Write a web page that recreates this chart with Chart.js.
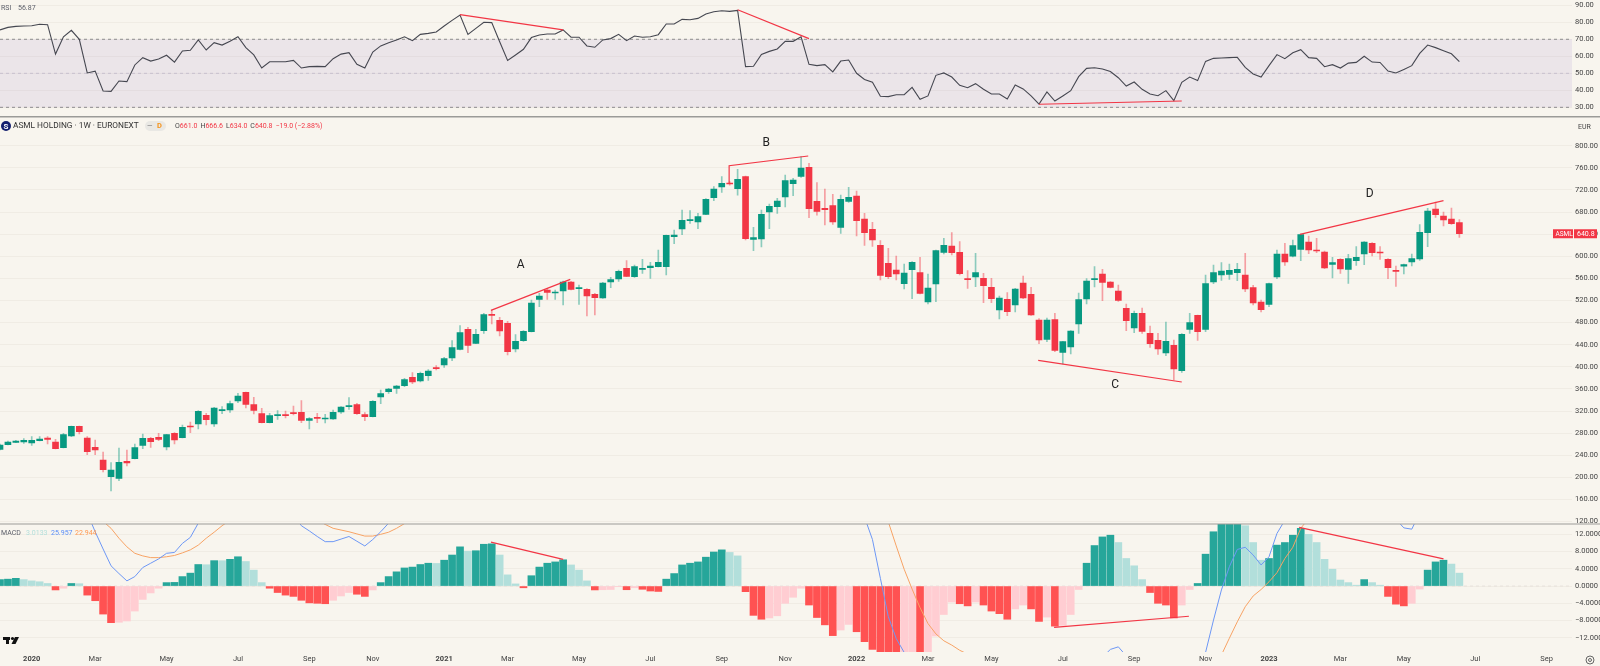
<!DOCTYPE html>
<html>
<head>
<meta charset="utf-8">
<title>ASML HOLDING 1W</title>
<script src="https://cdn.jsdelivr.net/npm/chart.js@4/dist/chart.umd.min.js"></script>
<style>
  html, body { margin: 0; padding: 0; background: #f8f5ee; }
  canvas { display: block; }
</style>
</head>
<body>
<canvas id="chart" width="1600" height="666"></canvas>
<script>
// weekly candles
const opens = [250.6,259.1,263.3,263.9,262.1,266.3,271.1,263.9,253.6,274.7,292.2,271.1,254.2,231.3,201.1,198.1,228.9,233.7,257.9,270.5,
  272.3,254.8,279.6,271.7,292.8,296.5,312.1,296.5,320.6,321.8,338.1,353.8,331.5,315.2,298.9,311.5,312.8,316.4,317.6,303.1,
  307.9,305.5,305.5,318.2,327.8,331.5,313.4,309.7,345.3,355,361,366,381,374.3,384,397.9,403.3,415.9,431.6,467.8,
  442.5,465.4,494.4,484.1,478.7,432.2,447.3,463.6,522.1,539,533.6,537.2,553.5,541.4,540.2,531.2,524.5,553.5,558.9,578.2,
  563.1,576.4,579.4,581.3,581.3,635.5,649.4,664.5,662.1,676,706.1,725.4,732.1,722.4,744.1,630.7,631.3,680.2,689.8,707.3,
  731.5,744.7,761,699.5,686.8,691.6,652.4,699.5,709.1,667.5,648.8,619.9,587.3,575.2,550.5,575.8,570.4,517.3,549.9,607.2,
  618.6,607.2,558.9,562.5,560.1,543.8,502.8,522.1,511.9,551.7,531.2,484.7,449.7,485.3,426.2,435.8,477.5,522.7,557.7,568,
  553.5,537.2,505.8,470.2,496.8,460.6,447.9,425,438.9,393,467.8,493.2,467.8,553.5,566.2,567.4,570.4,566.2,543.2,517.3,
  513.1,562.5,604.2,600,612.6,625.9,611.4,607.8,585.5,594.5,576.4,592.1,604.2,623.5,607.2,594.5,574.6,581.9,589.7,595.1,
  642.8,685.6,672.9,667.5,661];
const highs = [260,265.7,266.9,269.9,273.5,273.5,273.5,268.7,279.6,292.8,292.8,273.5,267.5,245.8,226.5,253,249.4,260.3,278.4,272.3,
  279.6,277.8,280.8,294.7,300.1,320.6,315.8,326.6,327.8,338.1,352,354.4,344.7,324.8,315.8,320.6,320,329,338.7,307.9,
  315.8,314,321.8,327.8,344.1,333.9,317,338.7,358,361,366.4,379,389.4,390.6,394.9,402,417.2,447.3,474.5,471.4,
  467.8,496.8,502.8,489.5,482.3,458.2,465.4,520.9,533,542,539,555.3,554.7,548.1,541.4,533,552.9,561.9,575.2,592.1,
  584.3,594.5,589.1,611.4,638.6,647.6,683.8,682.6,677.8,704.3,726,744.1,735,757.4,745.3,652.4,683.8,694.7,704.9,747.2,
  741.1,780.3,768.3,733.3,721.8,712.2,711,724.8,718.2,677.8,661.5,628.3,614.4,600.5,586.1,590.3,598.1,568,611.4,632.5,
  642.8,626.5,574,605.4,569.2,560.1,528.2,534.2,542,564.4,543.8,487.1,488.3,496.8,446.1,465.4,533.6,559.5,581.2,576.4,
  554.1,548.1,513.7,501,506.4,473.9,460.6,481.1,448.5,460,496.8,493.8,566.2,584.3,588.5,586.1,587.3,605.4,547.5,520.9,
  551.7,611.4,623.5,629.5,640.4,636.7,632.5,609.6,598.1,595.7,603.6,617.4,626.5,624.7,617.4,595.7,582.4,586.1,604.2,657.3,
  686.8,698.3,680.2,687.4,666.6];
const lows = [249.4,258.5,262.7,261.5,257.9,265.7,260.3,251.2,253,273.5,278.4,241,241,209.6,175.2,193.9,220.4,233.1,251.8,254.2,
  266.3,249.4,260.3,271.1,280.8,287.4,294.7,292.2,315.2,317.6,335.1,325.4,314.6,298.3,298.3,304.9,307.3,312.8,298.9,287.4,
  298.9,298.3,304.9,315.8,323,313.9,302.5,309.1,333.3,352,352,364,369.5,372.5,375.5,394.3,399,411.1,430.4,425.6,
  441.9,460.6,477.5,455.8,421.4,426.8,446.1,463,508.8,521.9,521.9,511.9,539,513.1,491.9,493.8,523.9,543.2,554.7,563.1,
  561.9,569.2,560.1,580.6,566.2,622.9,639.2,659.7,650,675.4,700.7,715.8,728.5,710.4,629.5,610.2,616.8,650,677.8,689.2,
  709.7,742.9,669.9,674.2,656.7,657.9,641.6,697.7,636.7,619.8,618,557.1,559.5,557.1,540.8,523.3,531.8,513.7,517.9,604.2,
  602.4,566.2,542,545,516.1,516.1,486.5,492.6,499.2,523.3,493.2,441.9,445.5,427.4,405.1,423.2,460.6,513.7,544.4,519.7,
  542.6,518.5,465.4,461.8,460.6,435.2,422.6,420.2,376.1,390,460.6,447.9,463.6,550.5,556.5,558.3,555.9,536,511.9,499.2,
  508.8,559.5,583.7,598.7,592.1,604.8,606.6,577.6,560.7,569.2,551.1,583.7,584.9,600.5,594.5,559.5,545.6,568,582.4,592.7,
  617.4,670.5,654.8,657.9,634];
const closes = [258.5,263.9,265.7,266.9,266.9,269.3,268.7,251.8,277.2,292.2,282.6,246.4,249.4,213.8,213.2,227.1,225.9,253.6,270.5,264.5,
  268.7,277.2,267.5,290.4,291,319.4,304.3,325.4,321.8,333.3,347.1,332.1,321.2,298.9,311.5,312.8,311.5,315.2,303.1,306.1,
  306.7,306.7,317.6,327.2,329,315.2,309.7,337.5,351.4,359.8,365.2,376.8,372.5,388.2,392.4,396.7,414.7,434.6,461.8,438.9,
  458.8,494.4,493.2,464.8,427.4,446.1,464.2,515.5,528.2,534.8,535.4,553.5,540.2,543.2,528.2,525.1,551.7,557.7,572.8,563.7,
  581.3,578.2,582.5,589.1,637.9,638.6,665.1,665.7,671.7,703.1,721.8,732.1,730.9,739.3,631.9,633.7,676,690.4,700.1,736.9,
  738.1,759.8,686.2,681.4,684.4,662.1,703.1,706.7,664.5,642.8,629.5,565.6,563.2,568,569.8,589.1,533,542.6,610.2,619.9,
  606.6,568.6,557.7,570.4,546.9,523.3,524.5,499.8,540.8,524.5,493.8,448.5,484.7,429.8,445.5,464.8,521.5,555.3,558.9,552.9,
  543.8,520.3,483.5,496.8,464.2,441.9,432.2,446.1,396,458.8,479.9,463.6,550.5,570.4,573.4,574.6,576.4,540.8,515.5,503.4,
  550.5,604.2,589.7,619.2,639.2,611.4,609.6,578.8,588.5,577,595.7,598.1,625.9,606.6,606,579.4,572.8,584.9,595.7,643.4,
  682,675.4,665.7,659.1,640.8];

const rsiValues = [75.5,77,77.6,77.8,78,78.8,78.6,61.3,71.5,75.3,70,50.2,51.3,39.6,39.4,45.5,45.1,54.9,59.2,57.2,
  58.4,60.6,56.6,63.1,63.5,69.6,63.7,68,66.6,68.8,71.5,65.1,60.8,53.1,56.8,56.8,56.8,57.6,53.1,53.9,
  54.1,53.9,58.6,61.3,62.1,55.3,53.1,62.5,66.1,68,69.6,71.5,69.2,72.9,73.5,74.3,77.8,81.1,84.3,72.9,
  76.4,80,79.8,68.6,57.6,60.8,64.1,71,72.5,73.1,73.1,75.5,71.2,71.2,66.1,65.3,69.6,70.4,72.9,69.2,
  71.9,71.2,71.5,72.7,79,79,81.7,81.5,82.3,84.9,86.2,86.8,86.4,87,53.9,54.1,61.1,62.9,64.3,68.8,
  68.8,71.5,55.3,54.5,55.1,50.8,57.2,57.8,50,46.4,44.7,36.5,36.3,37.4,37.4,41.7,34.7,36.7,48.8,50.2,
  47.8,42.9,41.5,43.9,40.6,37.8,37.8,34.9,43.1,40.8,36.7,31.9,39,33.7,36.7,39.8,48,52.9,53.3,52.5,
  51,47.4,42.5,44.9,40.6,37.8,36.8,39.8,33.9,44.7,47.8,45.7,57,58.8,59,59.2,59.4,53.5,49.6,47.8,
  54.5,61,58.6,62.1,63.9,59.2,58.8,53.9,55.1,53.1,56,56.4,60,56.6,56.4,51.3,50.2,52.3,54.5,61.7,
  66.6,65.1,63.3,61.5,56.87];

const macdHist = [1.5,1.6,1.8,1.5,1.2,1,0.6,-0.9,-0.5,0.6,0.55,-2.1,-3.4,-6.5,-8.5,-8.4,-8.1,-5.8,-3.1,-1.6,
  -0.5,0.8,0.85,2.2,3,5,4.95,5.9,5.88,6.2,6.8,5.7,3.7,0.8,-0.5,-1.5,-2.1,-2.4,-3.3,-3.9,
  -4,-4.1,-3.3,-2.3,-1.5,-1.9,-2.4,-0.9,0.8,2.2,3.3,4.2,4.4,5,5.3,5.25,6,7.2,9.1,8.1,
  8.2,9.7,9.8,7.2,2.6,0.5,-0.4,2.4,4.4,5.3,5.6,6.1,4.9,3.7,1.2,-0.9,-0.85,-0.8,-0.15,-0.85,
  -0.4,-0.75,-1.15,-1.25,1.6,2.9,4.9,5.3,5.6,6.7,7.9,8.4,7.8,7,-1.3,-6.8,-7.7,-7.4,-6.9,-4,
  -2.6,-0.5,-4.4,-7.3,-9,-11.5,-10.2,-8.9,-10.6,-12.9,-14.7,-16,-17,-17.5,-17.2,-16.5,-17,-16,-11.6,-6.6,
  -3.7,-4.1,-4.6,-3.7,-4.4,-5.8,-6.4,-7.7,-5.3,-4.4,-5.3,-8.2,-7.2,-9.3,-9.1,-6.6,-0.8,5.3,9.4,11.4,
  11.8,10.1,6.4,4.7,1.5,-1.5,-4,-4.4,-7.4,-4.4,-0.8,0.6,7.4,12.6,15.5,16,16.5,14,10.1,6,
  6.4,9.5,10.1,11.8,13.4,12,10.1,6.2,3.9,1.4,0.8,0.2,1.5,0.8,0.2,-2.4,-4.2,-4.6,-4,-0.7,
  3.7,5.6,6,5.1,3];

// the MACD and signal lines leave the pane, only the visible stretches are kept: [first week, values]
const macdSegments = [
  [11, [17,12.6,8.6,4.7,2.9,1.2,2.2,4.3,5.3,6.3,7.6,7.8,9.9,11.3,14.6]],
  [37, [16.5,14,12.8,11.5,10.3,10.3,10.9,11.5,10.4,9.3,10.8,12.6,14.6]],
  [109, [16,10.8,1.8,-7.1,-12.2,-15.4,-20]],
  [139, [-16.5,-14.7,-14.1,-16.2]],
  [151, [-18.7,-15.4,-7.9,-0.9,4.5,8.5,9,7.2,4.9,6.8,12.2,15.3]],
  [176, [15.5,13.5,13.2,17]]
];
const signalSegments = [
  [13, [15,13.4,11.1,9.1,7.6,7,6.6,6.6,6.8,7.1,7.7,8.4,9.5,11.1,12.5,14,15.3]],
  [40, [15.3,14.3,13.4,13,12.6,12.1,11.6,11.6,12,12.5,13.4,14.5,15.5]],
  [112, [14.9,9.3,3.9,-0.7,-5,-8.7,-11.1,-12.7,-13.7,-14.9,-15.8]],
  [154, [-16,-12.1,-8.3,-4.8,-2.3,-0.8,1,3.1,6.4,9,13.4,15.7]]
];

// hand drawn divergence lines, [week, value] pairs per pane
const priceTrends = [
  [[61.9,502.2],[71.9,558.3]],
  [[91.93,732],[91.93,764],[101.9,781.5]],
  [[130.9,411.7],[149,372.5]],
  [[163.9,639.8],[182,700.7]]
];
const rsiTrends = [
  [[58,84.5],[71,75.5]],
  [[93,87.4],[102,70.4]],
  [[131,31.8],[149,33.7]]
];
const macdTrends = [
  [[61.9,10.2],[71,6.2]],
  [[132.9,-9.6],[149.9,-7]],
  [[163.8,13.6],[182,6.3]]
];
const priceNotes = [['A',65.66,584.9],['B',96.6,804.5],['C',140.6,367.7],['D',172.7,712]];

const priceTicks = [800,760,720,680,640,600,560,520,480,440,400,360,320,280,240,200,160,120];
const rsiTicks = [90,80,70,60,50,40,30];
const rsiDashed = [70,50,30];
const macdTicks = [12,8,4,0,-4,-8,-12];
const tickWeeks = [4,12,21,30,39,47,56,64,73,82,91,99,108,117,125,134,143,152,160,169,177,186,195];
const tickLabels = ['2020','Mar','May','Jul','Sep','Nov','2021','Mar','May','Jul','Sep','Nov','2022','Mar','May','Jul','Sep','Nov','2023','Mar','May','Jul','Sep'];

const lastWeekOnAxis = 198.2;
const UP = '#089981';
const DOWN = '#f23645';
const AXIS_FONT = 'Roboto';
const TEXT = '#5d606b';

const weeks = opens.map((_, i) => i);
const rising = i => closes[i] >= opens[i];

function trendSets(lines, axis) {
  return lines.map(line => ({
    type: 'line', yAxisID: axis, order: 0,
    data: line.map(p => ({x: p[0], y: p[1]})),
    borderColor: DOWN, borderWidth: 1.2, pointRadius: 0, tension: 0
  }));
}

function segmentPoints(segments) {
  return segments.flatMap(seg => {
    const pts = seg[1].map((v, i) => ({x: seg[0] + i, y: v}));
    pts.push({x: seg[0] + seg[1].length - 0.5, y: null});
    return pts;
  });
}

function flatLine(value, color, extra) {
  return Object.assign({
    type: 'line', yAxisID: 'rsi', order: 8,
    data: [{x: 0, y: value}, {x: lastWeekOnAxis, y: value}],
    borderColor: color, borderWidth: 1, borderDash: [3, 3], pointRadius: 0
  }, extra);
}

// TradingView colours the histogram by sign and direction
function histColor(i) {
  const v = macdHist[i];
  const up = i === 0 || v >= macdHist[i - 1];
  if (v >= 0) return up ? '#26a69a' : '#b2dfdb';
  return up ? '#ffcdd2' : '#ff5252';
}

function paneAxis(weight, min, max, ticks, format) {
  return {
    type: 'linear', position: 'right', stack: 'panes', stackWeight: weight,
    min: min, max: max,
    afterBuildTicks: scale => { scale.ticks = ticks.map(v => ({value: v})); },
    afterFit: scale => { scale.width = 28; scale.paddingTop = 0; scale.paddingBottom = 0; },
    grid: {color: '#f0ece4', lineWidth: 1, drawTicks: false},
    border: {display: false},
    ticks: {
      padding: 3, color: '#444', autoSkip: false,
      font: {family: AXIS_FONT, size: 7.5},
      callback: format
    }
  };
}

const paneText = {
  id: 'paneText',
  afterDraw(chart) {
    const ctx = chart.ctx;
    const {rsi, price, macd} = chart.scales;
    const put = (str, x, y, color, font) => {
      ctx.font = font || ('7px ' + AXIS_FONT);
      ctx.fillStyle = color;
      ctx.fillText(str, x, y);
      return x + ctx.measureText(str).width;
    };
    ctx.save();
    ctx.textBaseline = 'middle';
    ctx.textAlign = 'left';

    // pane separators
    ctx.fillStyle = '#9b9b98';
    ctx.fillRect(0, rsi.bottom - 0.5, 1600, 1.5);
    ctx.fillRect(0, macd.top - 0.5, 1600, 1);

    put('RSI', 1, 8, TEXT);
    put(rsiValues[rsiValues.length - 1].toFixed(2), 18, 8, TEXT);

    // symbol line
    ctx.beginPath();
    ctx.arc(6, 126, 5, 0, Math.PI * 2);
    ctx.fillStyle = '#131f6e';
    ctx.fill();
    ctx.textAlign = 'center';
    put('S', 6, 126.5, '#fff', 'bold 8px ' + AXIS_FONT);
    ctx.textAlign = 'left';
    // hinted advances run too wide at this size
    ctx.textRendering = 'geometricPrecision';
    put('ASML HOLDING · 1W · EURONEXT', 13, 126, '#333', '8.3px ' + AXIS_FONT);
    ctx.textRendering = 'auto';
    ctx.fillStyle = '#e9e8e4';
    ctx.beginPath();
    ctx.roundRect(145, 121, 21, 10, 5);
    ctx.fill();
    put('—', 147, 126, '#777');
    put('D', 157, 126, '#f7931a', 'bold 7.5px ' + AXIS_FONT);
    let x = 175;
    [['O', '661.0'], ['H', '666.6'], ['L', '634.0'], ['C', '640.8']].forEach(pair => {
      x = put(pair[0], x, 126, '#444');
      x = put(pair[1], x, 126, DOWN) + 3;
    });
    put('−19.0 (−2.88%)', x, 126, DOWN);
    put('EUR', 1578, 127, '#444');

    ctx.textAlign = 'center';
    priceNotes.forEach(n => {
      put(n[0], chart.scales.x.getPixelForValue(n[1]), price.getPixelForValue(n[2]), '#222', '12px ' + AXIS_FONT);
    });
    ctx.textAlign = 'left';

    // last price tag
    const tagY = price.getPixelForValue(closes[closes.length - 1]);
    ctx.fillStyle = DOWN;
    ctx.fillRect(1553, tagY - 4.5, 20, 9);
    ctx.fillRect(1574, tagY - 4.5, 23, 9);
    put('ASML', 1555.5, tagY + 0.5, '#fff', '6.5px ' + AXIS_FONT);
    put('640.8', 1577, tagY + 0.5, '#fff');

    put('MACD', 1, 533, TEXT);
    put('3.0133', 26, 533, '#b2dfdb');
    put('25.957', 51, 533, '#5b8ff9');
    put('22.944', 75, 533, '#ff9850');

    // logo and settings mark
    ctx.fillStyle = '#111';
    ctx.fillRect(3, 637, 7, 3);
    ctx.fillRect(6, 640, 3, 4);
    ctx.beginPath();
    ctx.arc(12.5, 638.5, 1.6, 0, Math.PI * 2);
    ctx.fill();
    ctx.beginPath();
    ctx.moveTo(15, 637);
    ctx.lineTo(19, 637);
    ctx.lineTo(15.5, 644);
    ctx.lineTo(11.5, 644);
    ctx.closePath();
    ctx.fill();
    ctx.strokeStyle = '#666';
    ctx.lineWidth = 1;
    ctx.beginPath();
    ctx.arc(1590, 660, 4, 0, Math.PI * 2);
    ctx.stroke();
    ctx.beginPath();
    ctx.arc(1590, 660, 1.5, 0, Math.PI * 2);
    ctx.stroke();
    ctx.restore();
  }
};

const myChart = new Chart(document.getElementById('chart'), {
  type: 'bar',
  data: {
    datasets: [
      // rsi pane
      flatLine(70, '#8d8d8d', {fill: {value: 30}, backgroundColor: 'rgba(126,87,194,0.1)'}),
      ...rsiDashed.slice(1).map(v => flatLine(v, v === 50 ? '#cfcbcf' : '#8d8d8d')),
      {
        type: 'line', yAxisID: 'rsi', order: 2,
        data: weeks.map(i => ({x: i, y: rsiValues[i]})),
        borderColor: '#454750', borderWidth: 1.1, pointRadius: 0, tension: 0
      },
      ...trendSets(rsiTrends, 'rsi'),
      // candles: wicks are thin floating bars under the bodies
      {
        yAxisID: 'price', order: 6, grouped: false, barThickness: 1,
        data: weeks.map(i => ({x: i, y: [lows[i], highs[i]]})),
        backgroundColor: weeks.map(i => rising(i) ? 'rgba(8,153,129,0.45)' : 'rgba(242,54,69,0.45)')
      },
      {
        yAxisID: 'price', order: 5, grouped: false, barThickness: 6, minBarLength: 1,
        data: weeks.map(i => ({x: i, y: [opens[i], closes[i]]})),
        backgroundColor: weeks.map(i => rising(i) ? UP : DOWN)
      },
      ...trendSets(priceTrends, 'price'),
      // macd pane
      {
        type: 'line', yAxisID: 'macd', order: 7,
        data: [{x: 0, y: 0}, {x: lastWeekOnAxis, y: 0}],
        borderColor: '#e6e1dc', borderWidth: 1, borderDash: [3, 3], pointRadius: 0
      },
      {
        yAxisID: 'macd', order: 6, grouped: false, barThickness: 7,
        data: weeks.map(i => ({x: i, y: macdHist[i]})),
        backgroundColor: weeks.map(histColor)
      },
      {
        type: 'line', yAxisID: 'macd', order: 2, spanGaps: false,
        data: segmentPoints(macdSegments),
        borderColor: '#6d97f5', borderWidth: 1, pointRadius: 0, tension: 0
      },
      {
        type: 'line', yAxisID: 'macd', order: 2, spanGaps: false,
        data: segmentPoints(signalSegments),
        borderColor: '#f7a365', borderWidth: 1, pointRadius: 0, tension: 0
      },
      ...trendSets(macdTrends, 'macd')
    ]
  },
  options: {
    responsive: false,
    animation: false,
    parsing: {xAxisKey: 'x', yAxisKey: 'y'},
    layout: {padding: 0},
    plugins: {legend: {display: false}, tooltip: {enabled: false}},
    scales: {
      x: {
        type: 'linear', position: 'bottom', min: 0, max: lastWeekOnAxis, offset: false,
        afterBuildTicks: scale => { scale.ticks = tickWeeks.map(v => ({value: v})); },
        afterFit: scale => { scale.height = 14; scale.paddingLeft = 0; scale.paddingRight = 0; },
        grid: {display: false, drawTicks: false},
        border: {display: false},
        ticks: {
          autoSkip: false, maxRotation: 0, padding: 3, color: '#444',
          font: c => ({family: AXIS_FONT, size: 7.5, weight: /^20/.test(tickLabels[c.index]) ? 'bold' : 'normal'}),
          callback: (value, index) => tickLabels[index]
        }
      },
      rsi: paneAxis(116.5, 24.6, 93.1, rsiTicks, v => v.toFixed(2)),
      price: paneAxis(407.5, 115.5, 853, priceTicks, v => v.toFixed(2)),
      macd: paneAxis(128, -15.3, 14.4, macdTicks, v => (v < 0 ? '−' + (-v).toFixed(4) : v.toFixed(4)))
    }
  },
  plugins: [paneText]
});
</script>
</body>
</html>
